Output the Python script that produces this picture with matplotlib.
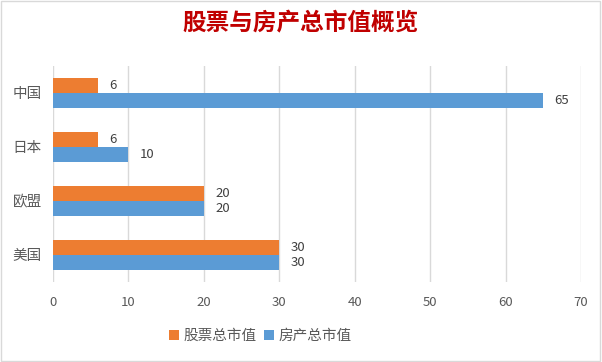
import numpy as np
import matplotlib
matplotlib.use("Agg")
import matplotlib.pyplot as plt
from matplotlib.patches import Rectangle

plt.rcParams['font.family'] = ['Noto Sans CJK SC', 'DejaVu Sans']

categories = ['美国', '欧盟', '日本', '中国']
stock = [30, 20, 6, 6]
house = [30, 20, 10, 65]
series_names = ['股票总市值', '房产总市值']
orange = '#ED7D31'
blue = '#5B9BD5'
text_gray = '#595959'

fig = plt.figure(figsize=(6.02, 3.62), dpi=100)
fig.patches.append(Rectangle((0.002, 0.003), 0.995, 0.994, transform=fig.transFigure,
                             fill=False, edgecolor='#D9D9D9', linewidth=1))
ax = fig.add_axes([0.088, 0.221, 0.877, 0.597])

y = np.arange(len(categories))
h = 0.28
b1 = ax.barh(y + h / 2, stock, height=h, color=orange, label=series_names[0])
b2 = ax.barh(y - h / 2, house, height=h, color=blue, label=series_names[1])

for bars, vals in ((b1, stock), (b2, house)):
    for rect, v in zip(bars, vals):
        ax.text(v + 1.5, rect.get_y() + rect.get_height() / 2, str(v),
                va='center', ha='left', fontsize=9.5, color='#404040')

ax.set_xlim(0, 70)
ax.set_ylim(-0.5, len(categories) - 0.5)
ax.set_xticks(range(0, 71, 10))
ax.set_yticks(y)
ax.set_yticklabels(categories, fontsize=10.5, color=text_gray)
ax.tick_params(axis='x', labelsize=9.5, colors=text_gray, length=0, pad=10)
ax.tick_params(axis='y', length=0, pad=8)
ax.grid(axis='x', color='#D9D9D9', linewidth=1)
ax.set_axisbelow(True)
for s in ax.spines.values():
    s.set_visible(False)

fig.text(0.5, 0.935, '股票与房产总市值概览', ha='center', va='center',
         fontsize=17, fontweight='bold', color='#C00000')

fig.legend(handles=[b1, b2], loc='center', bbox_to_anchor=(0.432, 0.072), ncol=2,
           frameon=False, fontsize=10.5, handlelength=0.7, handleheight=0.7,
           handletextpad=0.3, columnspacing=0.5, labelcolor=text_gray)

fig.savefig('out.png', dpi=100)
